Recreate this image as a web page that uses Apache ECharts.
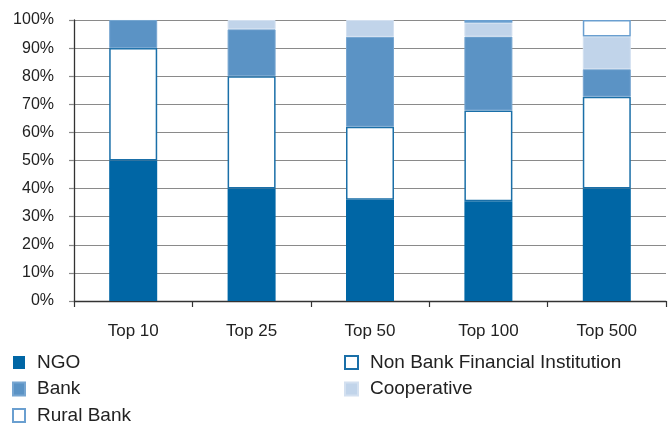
<!DOCTYPE html>
<html>
<head>
<meta charset="utf-8">
<script src="https://cdn.jsdelivr.net/npm/echarts@6/dist/echarts.min.js"></script>
<style>html,body{margin:0;padding:0;background:#fff}#c{width:669px;height:427px}</style>
</head>
<body>
<div id="c"></div>
<script>
const categories = ['Top 10', 'Top 25', 'Top 50', 'Top 100', 'Top 500'];
const ngo = [50, 40, 36, 35.5, 40];
const nbfi = [40, 40, 26, 32.3, 32.7];
const bank = [10, 16.7, 32, 26.3, 9.8];
const coop = [0, 3.3, 6, 4.9, 11.6];
const rural = [0, 0, 0, 1, 5.9];
const yTicks = [0, 10, 20, 30, 40, 50, 60, 70, 80, 90, 100];

const chart = echarts.init(document.getElementById('c'), null, {renderer: 'canvas'});
const font = 'Liberation Sans, Arial, sans-serif';
const nz = arr => arr.map(v => v === 0 ? '-' : v);
function bar(name, data, style) {
  return {name, type: 'bar', stack: 'all', data: nz(data), barWidth: 48, itemStyle: style, emphasis: {disabled: true}};
}
const legendText = {fontFamily: font, fontSize: 19, color: '#222', lineHeight: 19, padding: [0, 0, 0, 7]};
chart.setOption({
  animation: false,
  grid: {left: 74, right: 3, top: 20, bottom: 126, containLabel: false},
  xAxis: {
    type: 'category', data: categories,
    axisLine: {lineStyle: {color: '#333', width: 1.3}},
    axisTick: {show: true, length: 6, lineStyle: {color: '#333', width: 1.2}},
    axisLabel: {fontFamily: font, fontSize: 17, color: '#222', margin: 22}
  },
  yAxis: {
    type: 'value', min: yTicks[0], max: yTicks[yTicks.length - 1], interval: 10,
    axisLine: {show: true, lineStyle: {color: '#333', width: 1.3}},
    axisTick: {show: true, length: 5, lineStyle: {color: '#888', width: 1.2}},
    splitLine: {lineStyle: {color: '#8a8a8a', width: 1.2}},
    axisLabel: {fontFamily: font, fontSize: 16, color: '#222', margin: 20, formatter: '{value}%'}
  },
  legend: [
    {data: ['NGO', 'Bank', 'Rural Bank'], orient: 'vertical', left: 12, top: 353, height: 90, padding: 0,
     itemWidth: 12, itemHeight: 13, itemGap: 7.5, icon: 'rect', textStyle: legendText},
    {data: ['Non Bank Financial Institution', 'Cooperative'], orient: 'vertical', left: 344, top: 353, height: 90, padding: 0,
     itemWidth: 13, itemHeight: 13, itemGap: 7.5, icon: 'rect', textStyle: legendText}
  ],
  series: [
    bar('NGO', ngo, {color: '#0066a5'}),
    bar('Non Bank Financial Institution', nbfi, {color: '#ffffff', borderColor: '#1a6fa8', borderWidth: 1.5}),
    bar('Bank', bank, {color: '#5b93c5', borderColor: '#77a6d1', borderWidth: 1}),
    bar('Cooperative', coop, {color: '#c1d4ea', borderColor: '#d3e0f0', borderWidth: 1}),
    bar('Rural Bank', rural, {color: '#ffffff', borderColor: '#6a9fd0', borderWidth: 1.5})
  ]
});
</script>
</body>
</html>
